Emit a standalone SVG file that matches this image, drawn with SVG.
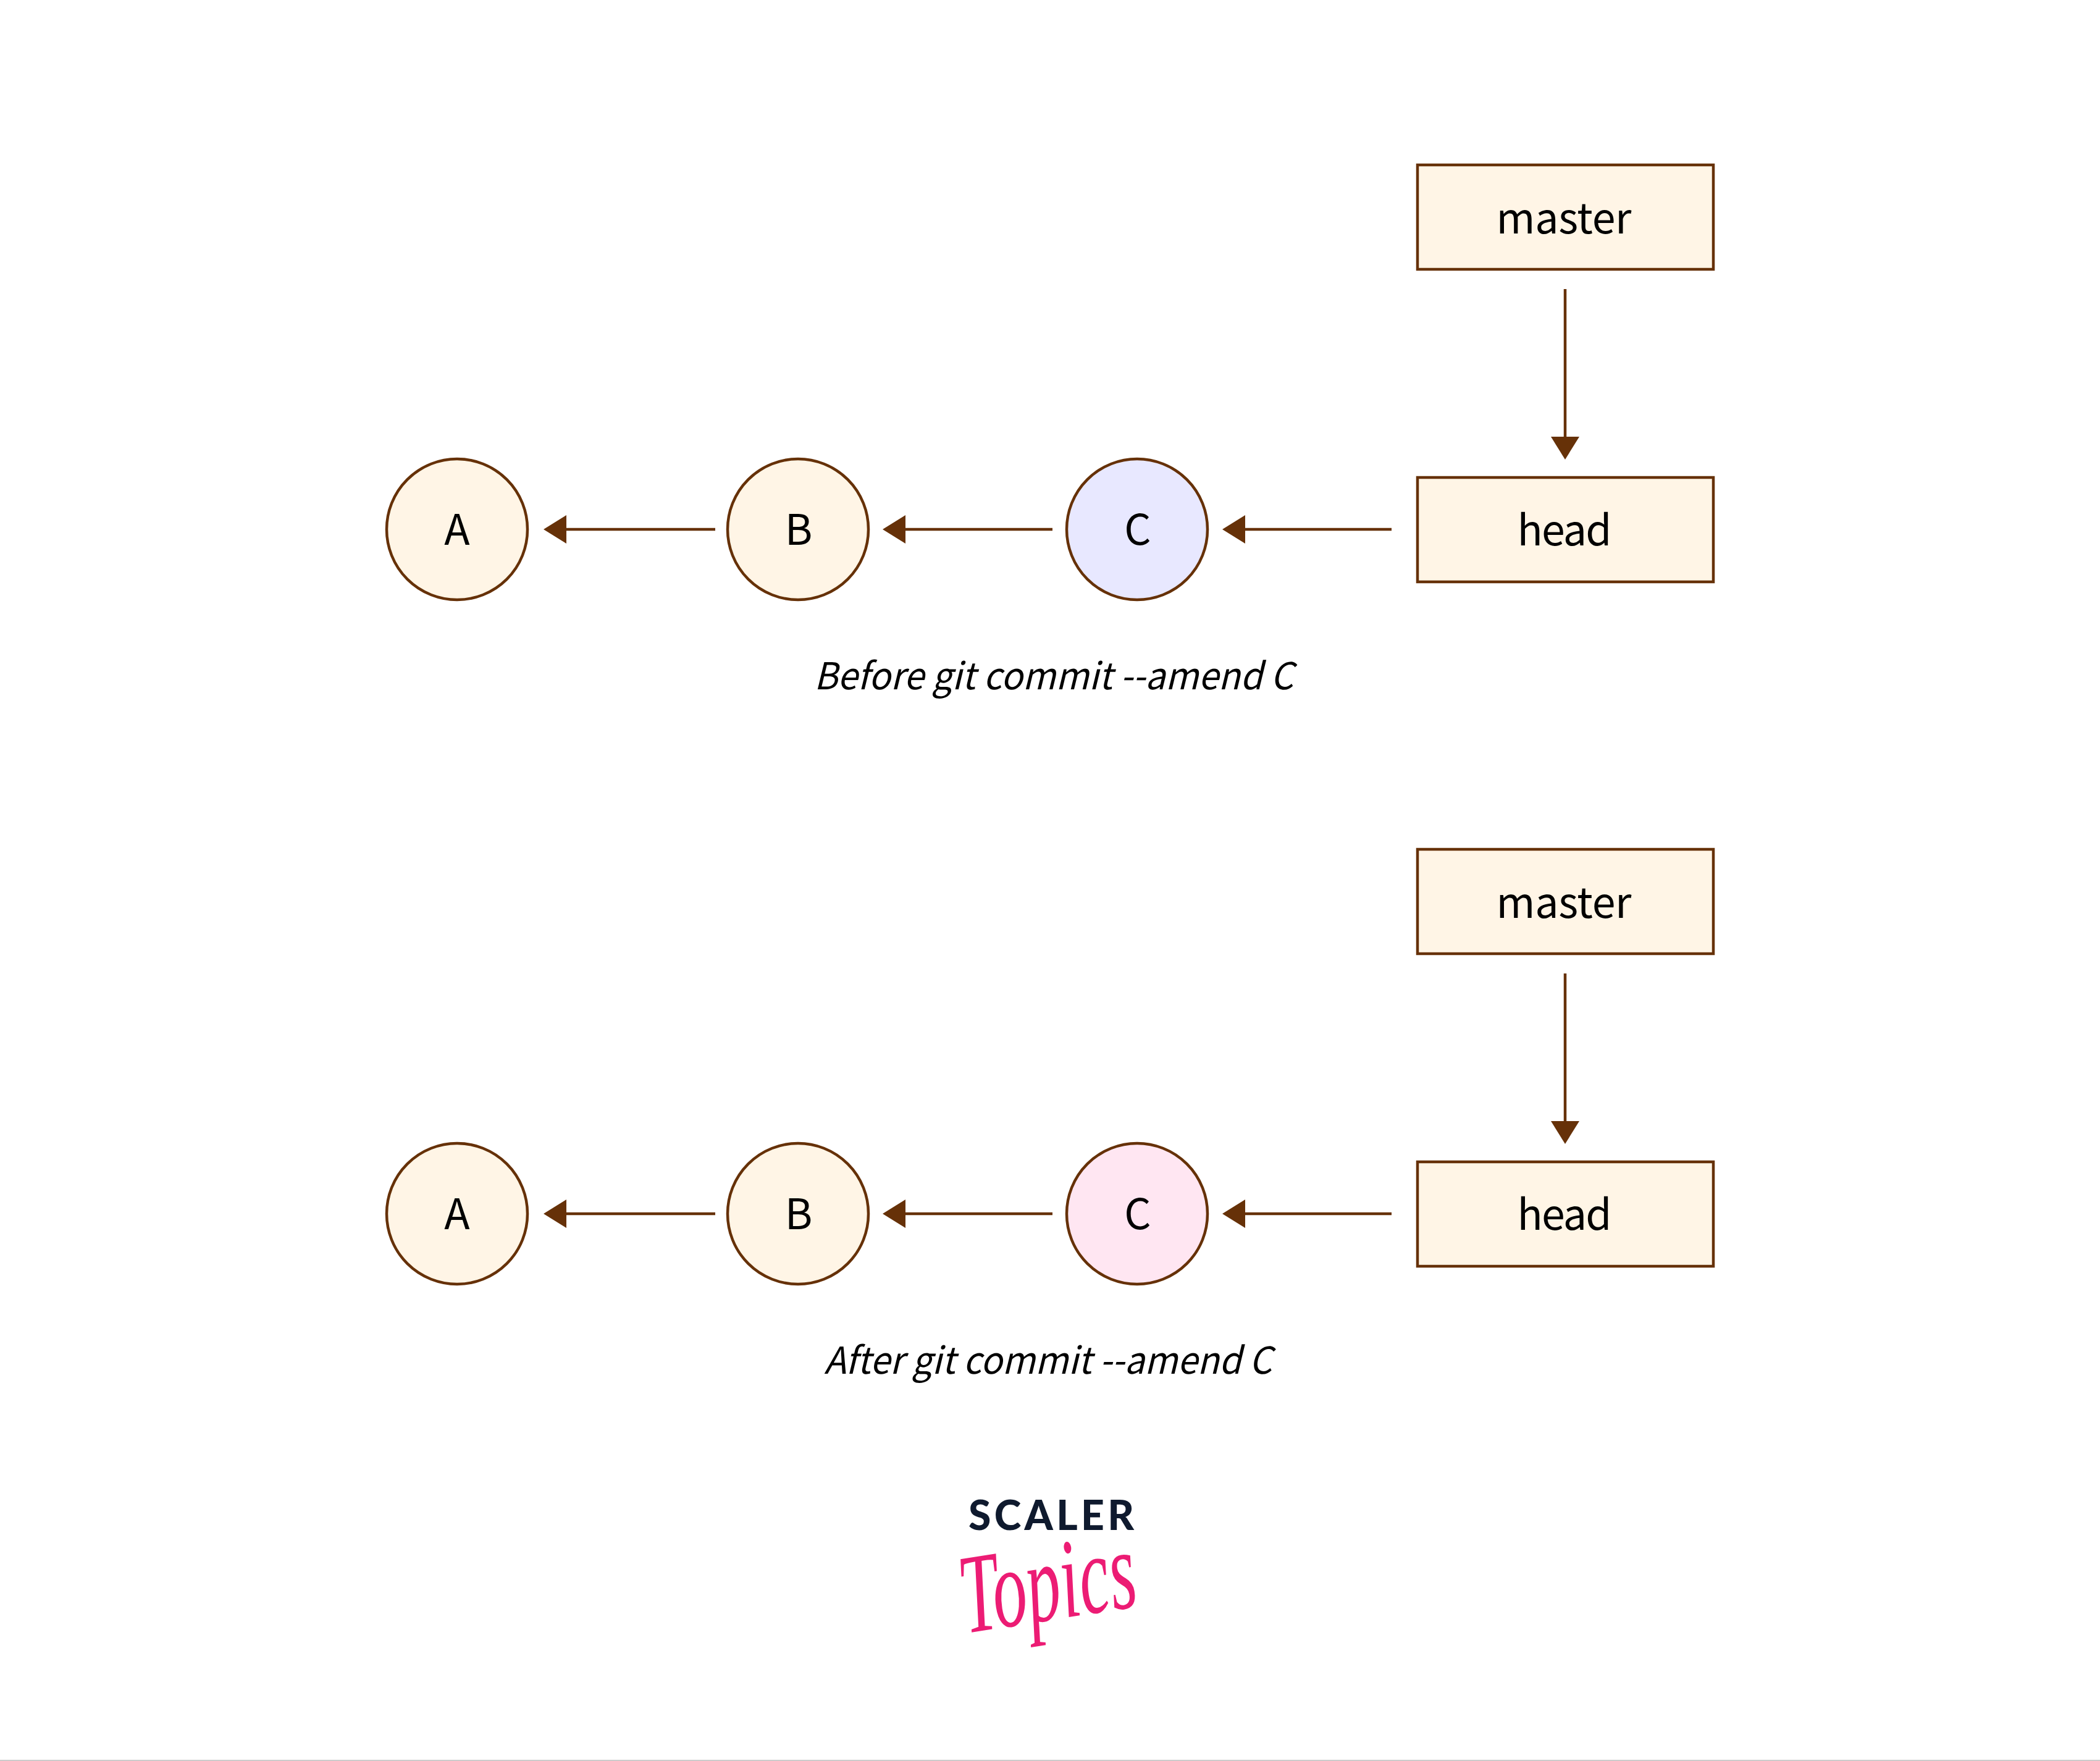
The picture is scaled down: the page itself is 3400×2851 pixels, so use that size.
<svg xmlns="http://www.w3.org/2000/svg" width="3400" height="2851" viewBox="0 0 3400 2851">
  <style>
    .n { fill: #FFF5E6; stroke: #663108; stroke-width: 4.5; }
    .c { fill: none; stroke: #663108; stroke-width: 4.5; marker-end: url(#arrow); }
    text { font-family: "Noto Sans CJK SC", "Noto Sans", sans-serif; fill: #000; text-anchor: middle; }
    .l { font-size: 68px; }
    .cap { font-size: 60px; font-style: italic; }
  </style>
  <defs>
    <marker id="arrow" markerUnits="userSpaceOnUse" markerWidth="40" markerHeight="48" refX="0" refY="23" orient="auto">
      <path d="M0 0L37 23L0 46Z" fill="#663108"/>
    </marker>
  </defs>
  <rect width="3400" height="2851" fill="#fff"/>
  <g id="connectors">
    <path class="c" d="M2534 468V707"/>
    <path class="c" d="M2253 857H2016"/>
    <path class="c" d="M1704 857H1466"/>
    <path class="c" d="M1158 857H917"/>
    <path class="c" d="M2534 1576V1815"/>
    <path class="c" d="M2253 1965H2016"/>
    <path class="c" d="M1704 1965H1466"/>
    <path class="c" d="M1158 1965H917"/>
  </g>
  <g id="master1"><rect class="n" x="2295" y="267" width="479" height="169"/><text class="l" x="2532" y="378" textLength="219">master</text></g>
  <g id="head1"><rect class="n" x="2295" y="773" width="479" height="169"/><text class="l" x="2533" y="883" textLength="153">head</text></g>
  <g id="A1"><circle class="n" cx="740" cy="857" r="114"/><text class="l" x="740" y="882">A</text></g>
  <g id="B1"><circle class="n" cx="1292" cy="857" r="114"/><text class="l" x="1293" y="882">B</text></g>
  <g id="C1"><circle class="n" cx="1841" cy="857" r="114" style="fill:#E8E8FF"/><text class="l" x="1842" y="882">C</text></g>
  <g id="caption1"><text class="cap" x="1706" y="1116" textLength="776" lengthAdjust="spacingAndGlyphs">Before git commit --amend C</text></g>
  <g id="master2"><rect class="n" x="2295" y="1375" width="479" height="169"/><text class="l" x="2532" y="1486" textLength="219">master</text></g>
  <g id="head2"><rect class="n" x="2295" y="1881" width="479" height="169"/><text class="l" x="2533" y="1991" textLength="153">head</text></g>
  <g id="A2"><circle class="n" cx="740" cy="1965" r="114"/><text class="l" x="740" y="1990">A</text></g>
  <g id="B2"><circle class="n" cx="1292" cy="1965" r="114"/><text class="l" x="1293" y="1990">B</text></g>
  <g id="C2"><circle class="n" cx="1841" cy="1965" r="114" style="fill:#FFE6F2"/><text class="l" x="1842" y="1990">C</text></g>
  <g id="caption2"><text class="cap" x="1697" y="2224" textLength="725" lengthAdjust="spacingAndGlyphs">After git commit --amend C</text></g>
  <g id="logo">
    <text x="1702" y="2477" textLength="268" style="font-family:'Lato','Inter',sans-serif;font-weight:900;font-size:66px;fill:#0F1A2E">SCALER</text>
    <text x="0" y="0" transform="translate(1705 2622) rotate(-9) scale(0.74 1.22)" style="font-family:'Liberation Serif',serif;font-style:italic;font-size:150px;fill:#EC1C74">Topics</text>
  </g>
  <rect id="rule" x="0" y="2849" width="3400" height="2" fill="#ccc"/>
</svg>
